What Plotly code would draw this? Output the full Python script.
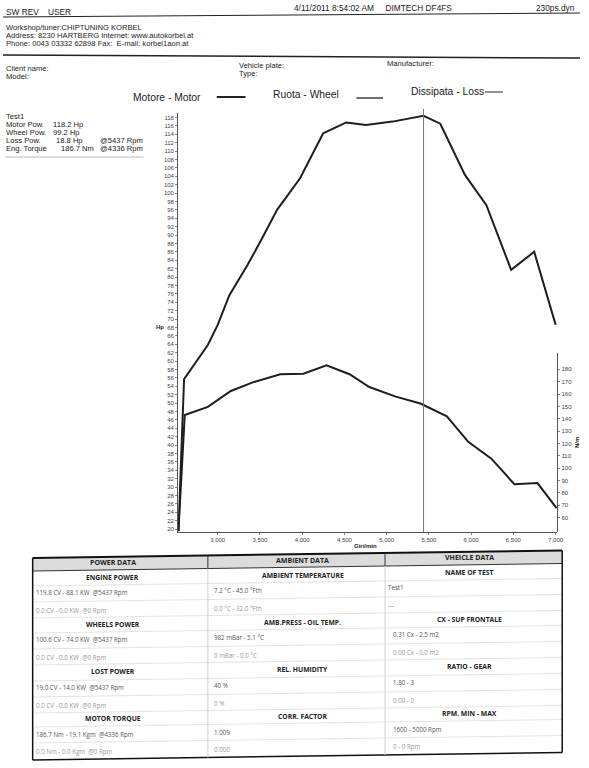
import plotly.graph_objects as go

W, H = 589, 768

# ---------------- data ----------------
rpm_power = [2535, 2602, 2883, 3000, 3137, 3351, 3507, 3703, 3975, 4249, 4522, 4756, 5069, 5437, 5635, 5927, 6181, 6474, 6747, 7001]
power_hp = [19.5, 55.7, 63.8, 68.6, 75.6, 82.8, 88.5, 96.0, 103.5, 114.2, 116.8, 116.2, 117.0, 118.4, 116.5, 104.3, 97.1, 81.7, 86.0, 68.6]

rpm_torque = [2535, 2610, 2883, 3156, 3430, 3741, 4015, 4288, 4561, 4795, 5108, 5400, 5713, 5966, 6240, 6513, 6786, 7012]
torque_nm = [49.0, 143.0, 149.6, 162.5, 169.8, 176.0, 176.5, 183.3, 176.0, 165.7, 157.9, 152.3, 142.0, 121.3, 107.7, 87.0, 88.0, 67.7]

peak_rpm = 5437

x_ticks = [3000, 3500, 4000, 4500, 5000, 5500, 6000, 6500, 7000]
hp_ticks = list(range(20, 119, 2))
nm_ticks = list(range(60, 181, 10))

header_left = "SW REV    USER"
header_mid = "4/11/2011 8:54:02 AM     DIMTECH DF4FS"
header_right = "230ps.dyn"
workshop_lines = [
    "Workshop/tuner:CHIPTUNING KORBEL",
    "Address: 8230 HARTBERG Internet: www.autokorbel.at",
    "Phone: 0043 03332 62898 Fax:  E-mail: korbel1aon.at",
]
legend_items = ["Motore - Motor", "Ruota - Wheel", "Dissipata - Loss"]
stats_labels = ["Test1", "Motor Pow.", "Wheel Pow.", "Loss Pow.", "Eng. Torque"]
stats_values = ["", "118.2 Hp", "99.2 Hp", "18.8 Hp", "186.7 Nm"]
stats_at = ["", "", "", "@5437 Rpm", "@4336 Rpm"]

col_headers = ["POWER DATA", "AMBIENT DATA", "VHEICLE DATA"]
col_sections = [
    [("ENGINE POWER", "119.8 CV - 88.1 KW  @5437 Rpm", "0.0 CV - 0.0 KW  @0 Rpm"),
     ("WHEELS POWER", "100.6 CV - 74.0 KW  @5437 Rpm", "0.0 CV - 0.0 KW  @0 Rpm"),
     ("LOST POWER", "19.0 CV - 14.0 KW  @5437 Rpm", "0.0 CV - 0.0 KW  @0 Rpm"),
     ("MOTOR TORQUE", "186.7 Nm - 19.1 Kgm  @4336 Rpm", "0.0 Nm - 0.0 Kgm  @0 Rpm")],
    [("AMBIENT TEMPERATURE", "7.2 °C - 45.0 °Fth", "0.0 °C - 32.0 °Fth"),
     ("AMB.PRESS - OIL TEMP.", "982 mBar - 5.1 °C", "0 mBar - 0.0 °C"),
     ("REL. HUMIDITY", "40 %", "0 %"),
     ("CORR. FACTOR", "1.009", "0.000")],
    [("NAME OF TEST", "Test1", "—"),
     ("CX - SUP FRONTALE", "0.31 Cx - 2.5 m2", "0.00 Cx - 0.0 m2"),
     ("RATIO - GEAR", "1.80 - 3", "0.00 - 0"),
     ("RPM. MIN - MAX", "1600 - 5000 Rpm", "0 - 0 Rpm")],
]

# ---------------- helpers ----------------
def px(x):
    return x / W

def py(y):
    return 1 - y / H

annotations = []
shapes = []

def text(x, y, s, size=8, color="#222", anchor="left", bold=False, family="Liberation Sans", angle=0):
    if bold:
        s = "<b>" + s + "</b>"
    annotations.append(dict(
        x=px(x), y=py(y), xref="paper", yref="paper", text=s, showarrow=False,
        xanchor=anchor, yanchor="middle", textangle=angle, borderpad=0,
        font=dict(family=family, size=size, color=color),
    ))

def line(x0, y0, x1, y1, color="#222", width=1):
    shapes.append(dict(type="line", xref="paper", yref="paper",
                       x0=px(x0), y0=py(y0), x1=px(x1), y1=py(y1),
                       line=dict(color=color, width=width)))

# ---------------- figure ----------------
fig = go.Figure()
fig.add_trace(go.Scatter(x=rpm_power, y=power_hp, mode="lines",
                         line=dict(color="#1e1e1e", width=2), xaxis="x", yaxis="y",
                         showlegend=False, hoverinfo="skip"))
fig.add_trace(go.Scatter(x=rpm_torque, y=torque_nm, mode="lines",
                         line=dict(color="#1e1e1e", width=2), xaxis="x", yaxis="y2",
                         showlegend=False, hoverinfo="skip"))

# plot area in pixels
PL, PR, PT, PB = 180, 563, 113, 532
R2T = 353

tickfont = dict(family="Liberation Sans", size=6, color="#444")

fig.update_layout(
    width=W, height=H, autosize=False,
    margin=dict(l=0, r=0, t=0, b=0),
    paper_bgcolor="white", plot_bgcolor="rgba(0,0,0,0)",
    separators=".,",
    xaxis=dict(domain=[px(PL), px(PR)], range=[2532, 7020],
               tickmode="array", tickvals=x_ticks, tickformat=",d",
               showgrid=False, zeroline=False, showline=True, linecolor="#555", linewidth=1,
               ticks="outside", ticklen=2, tickcolor="#888", tickfont=tickfont, anchor="y"),
    yaxis=dict(domain=[py(PB), py(PT)], range=[19.29, 119.05],
               tickmode="array", tickvals=hp_ticks,
               showgrid=False, zeroline=False, showline=True, linecolor="#555", linewidth=1,
               ticks="outside", ticklen=2, tickcolor="#888", tickfont=tickfont, anchor="x"),
    yaxis2=dict(domain=[py(PB), py(R2T)], range=[48.4, 193.2],
                tickmode="array", tickvals=nm_ticks, side="right",
                showgrid=False, zeroline=False, showline=True, linecolor="#555", linewidth=1,
                ticks="outside", ticklen=2, tickcolor="#888", tickfont=tickfont, anchor="x"),
)

# vertical marker at peak
shapes.append(dict(type="line", xref="x", yref="paper", x0=peak_rpm, x1=peak_rpm,
                   y0=py(PB), y1=py(109), line=dict(color="#777", width=1)))

# axis titles
text(157, 327, "Hp", size=6, bold=True)
text(369, 546, "Giri/min", size=6, bold=True, anchor="center")
text(583, 443, "N/m", size=6, bold=True, anchor="center", angle=-90)

# ---------------- page header ----------------
text(5, 12, header_left, size=8.3)
text(296, 8, header_mid, size=8.3)
text(582, 8, header_right, size=8.3, anchor="right")
line(3, 17, 586, 13, width=1)

for i, s in enumerate(workshop_lines):
    text(5, 27.5 + i * 7.9, s, size=7.6)
line(3, 55, 586, 58, width=1.5)

text(5, 68.5, "Client name:", size=7.6)
text(5, 77, "Model:", size=7.6)
text(240, 65.3, "Vehicle plate:", size=7.6)
text(240, 73.6, "Type:", size=7.6)
text(390, 63, "Manufacturer:", size=7.6)

# legend row
text(133, 97, legend_items[0], size=10.3)
line(219, 97, 248, 97, width=2)
text(275, 95, legend_items[1], size=10.3)
line(360, 98, 387, 98, width=1.3)
text(414, 92, legend_items[2], size=10.3)
line(490, 92, 508, 92, width=1)

# stats block
for i in range(5):
    y = 116.6 + i * 7.95
    text(5, y, stats_labels[i], size=7.6)
    if stats_values[i]:
        text(53 + (3 if i == 3 else 0) + (8 if i == 4 else 0), y, stats_values[i], size=7.6)
    if stats_at[i]:
        text(100, y, stats_at[i], size=7.6)
line(5, 157, 145, 157, color="#bbb", width=1)

# ---------------- bottom table ----------------
TL, TR = 33, 568
C1, C2 = 210, 389
SLOPE = -0.014

def sy(x, y):
    return y + (x - TL) * SLOPE

def hline(y, color="#ddd", width=1, x0=TL, x1=TR):
    line(x0, sy(x0, y), x1, sy(x1, y), color=color, width=width)

def vline(x, y0, y1, color="#333", width=1):
    line(x, sy(x, y0), x, sy(x, y1), color=color, width=width)

TOP, HDR_B, BOT = 558, 571, 760

# header background
shapes.append(dict(type="path", xref="paper", yref="paper",
                   path="M {} {} L {} {} L {} {} L {} {} Z".format(
                       px(TL), py(sy(TL, TOP)), px(TR), py(sy(TR, TOP)),
                       px(TR), py(sy(TR, HDR_B)), px(TL), py(sy(TL, HDR_B))),
                   fillcolor="#dcdcdc", line=dict(width=0), layer="below"))

title_rows = [579, 626, 673, 720]
value_rows = [[593, 611], [640, 658], [688, 706], [735, 752]]

# faint row separators
sep_rows = [586, 602, 618, 633, 649, 665, 681, 697, 713, 727, 743]
for y in sep_rows:
    hline(y, color="#e4e4e4", width=1)

# outer border and dividers
hline(TOP, color="#111", width=2)
hline(HDR_B, color="#333", width=1)
hline(BOT, color="#111", width=1.5)
vline(TL, TOP, BOT, color="#111", width=1.5)
vline(TR, TOP, BOT, color="#111", width=1.5)
vline(C1, TOP, HDR_B, color="#333", width=1)
vline(C2, TOP, HDR_B, color="#333", width=1)
vline(C1, HDR_B, BOT, color="#cfcfcf", width=1)
vline(C2, HDR_B, BOT, color="#cfcfcf", width=1)

TF = "Open Sans"
col_centers = [114, 306, 474]
col_value_x = [35, 215, 396]

for c in range(3):
    cx = col_centers[c]
    text(cx, sy(cx, 564), col_headers[c], size=7, bold=True, color="#222", anchor="center", family=TF)
    for s, (title, v1, v2) in enumerate(col_sections[c]):
        ty = title_rows[s]
        text(cx, sy(cx, ty), title, size=6.8, bold=True, color="#222", anchor="center", family=TF)
        vx = col_value_x[c]
        if c == 2 and s == 0:
            vx = 391
        text(vx, sy(vx, value_rows[s][0]), v1, size=6.2, color="#555", family=TF)
        text(vx, sy(vx, value_rows[s][1]), v2, size=6.2, color="#999", family=TF)

fig.update_layout(annotations=annotations, shapes=shapes)
fig.write_html("out.html", config={"displayModeBar": False},
               post_script="document.body.style.margin='0';document.body.style.padding='0';")
